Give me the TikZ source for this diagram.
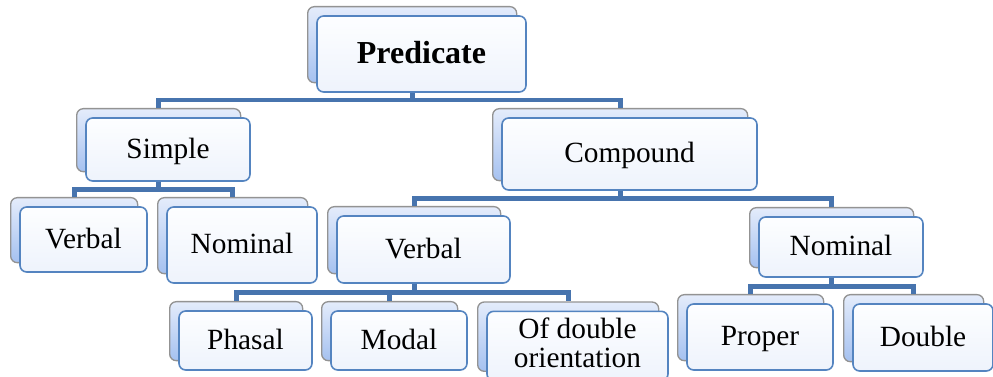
\documentclass[tikz,border=0pt]{standalone}
\usepackage{fontspec}
\setmainfont{Liberation Serif}
\usetikzlibrary{positioning,calc}
\definecolor{linkblue}{RGB}{71,116,174}
\definecolor{edgeblue}{RGB}{84,132,192}
\definecolor{cardtop}{RGB}{253,254,255}
\definecolor{cardbottom}{RGB}{238,243,252}
\definecolor{backtop}{RGB}{228,236,251}
\definecolor{backbottom}{RGB}{165,193,240}
\tikzset{card/.style={
            draw=edgeblue,
            line width=1.2pt,
            rounded corners=5pt,
            top color=cardtop,
            bottom color=cardbottom,
            align=center,
            inner sep=0pt,
            text height=16pt,
            text depth=3pt,
            font=\fontsize{22}{22}\selectfont,
            preaction={
                draw=gray!85,
                line width=1pt,
                top color=backtop,
                bottom color=backbottom,
                transform canvas={shift={(-7pt,7pt)}}
            }
        },
        headcard/.style={
            card,
            text height=17pt,
            text depth=3pt,
            font=\fontsize{24}{24}\selectfont\bfseries
        },
        link/.style={
            draw=linkblue,
            line width=3.5pt
        }
    }

\begin{document}
\begin{tikzpicture}[x=0.75pt,y=-0.75pt]
        \useasboundingbox (0,0) rectangle (993,377);
        \node[headcard,minimum width=156.75pt,minimum height=57pt] at (421.5,54) (pred) {Predicate};
        \node[card,minimum width=123pt,minimum height=47.25pt] at (168,149.5) (simple) {Simple};
        \node[card,minimum width=191.25pt,minimum height=54pt] at (629.5,154) (compound) {Compound};
        \node[card,minimum width=95.25pt,minimum height=48.75pt] at (83.5,239.5) (simpleverbal) {Verbal};
        \node[card,minimum width=112.5pt,minimum height=57pt] at (242,245) (simplenominal) {Nominal};
        \node[card,minimum width=129.75pt,minimum height=50.25pt] at (423.5,249.5) (verbal) {Verbal};
        \node[card,minimum width=123pt,minimum height=45pt] at (841,247) (nominal) {Nominal};
        \node[card,minimum width=99.75pt,minimum height=44.25pt] at (245.5,340.5) (phasal) {Phasal};
        \node[card,minimum width=102pt,minimum height=44.25pt] at (399,340.5) (modal) {Modal};
        \node[card,text height=37pt,text depth=4pt,minimum width=135.75pt,minimum height=52pt] at (577.5,346) (orient) {Of double\\orientation};
        \node[card,minimum width=109.5pt,minimum height=49.5pt] at (760,337) (proper) {Proper};
        \node[card,minimum width=105pt,minimum height=50.25pt] at (923,337.5) (double) {Double};
        \draw[link] ([xshift=-7pt]pred.south) -- ++(0,-5.5pt) -| ([shift={(-7pt,7pt)}]simple.north);
        \draw[link] ([xshift=-7pt]pred.south) -- ++(0,-5.5pt) -| ([shift={(-7pt,7pt)}]compound.north);
        \draw[link] ([xshift=-7pt]simple.south) -- ++(0,-6pt) -| ([shift={(-7pt,7pt)}]simpleverbal.north);
        \draw[link] ([xshift=-7pt]simple.south) -- ++(0,-6pt) -| ([shift={(-7pt,7pt)}]simplenominal.north);
        \draw[link] ([xshift=-7pt]compound.south) -- ++(0,-6pt) -| ([shift={(-7pt,7pt)}]verbal.north);
        \draw[link] ([xshift=-7pt]compound.south) -- ++(0,-6pt) -| ([shift={(-7pt,7pt)}]nominal.north);
        \draw[link] ([xshift=-7pt]verbal.south) -- ++(0,-6.5pt) -| ([shift={(-7pt,7pt)}]phasal.north);
        \draw[link] ([xshift=-7pt]verbal.south) -- ++(0,-6.5pt) -| ([shift={(-7pt,7pt)}]modal.north);
        \draw[link] ([xshift=-7pt]verbal.south) -- ++(0,-6.5pt) -| ([shift={(-7pt,7pt)}]orient.north);
        \draw[link] ([xshift=-7pt]nominal.south) -- ++(0,-6.5pt) -| ([shift={(-7pt,7pt)}]proper.north);
        \draw[link] ([xshift=-7pt]nominal.south) -- ++(0,-6.5pt) -| ([shift={(-7pt,7pt)}]double.north);
    \end{tikzpicture}
\end{document}
